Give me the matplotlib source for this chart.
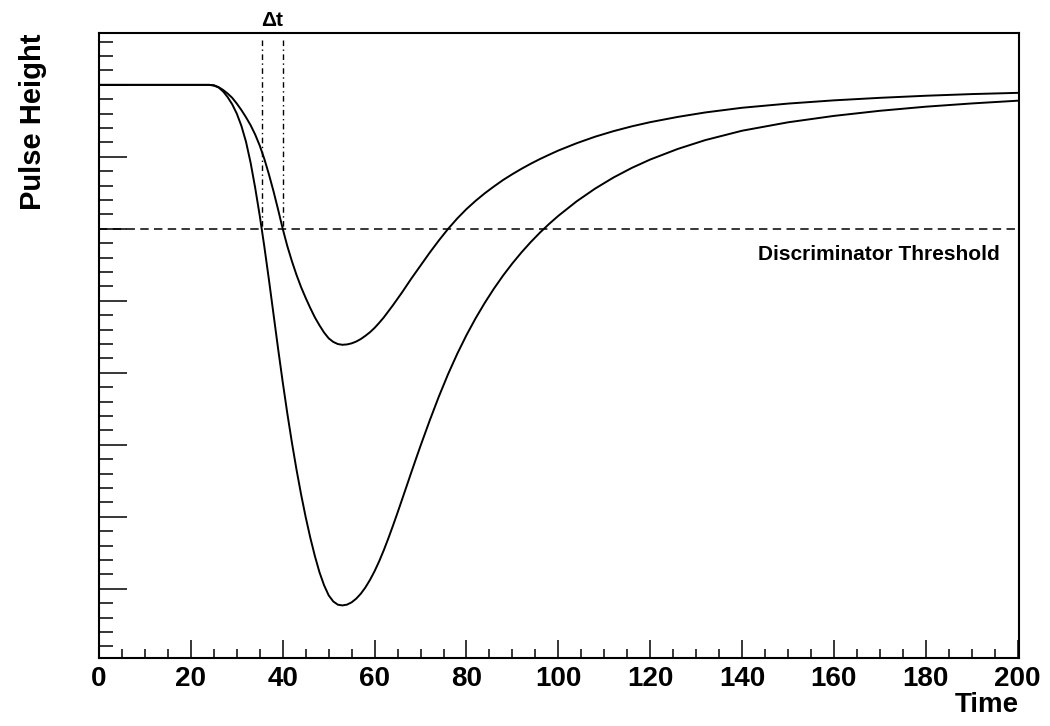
import numpy as np
import matplotlib
matplotlib.use("Agg")
import matplotlib.pyplot as plt
from matplotlib.ticker import MultipleLocator, NullFormatter

plt.rcParams['font.family'] = ['Liberation Sans', 'DejaVu Sans']
plt.rcParams['font.weight'] = 'bold'

# large pulse
big_t = [0, 10, 20, 24, 25, 26, 27, 28, 29, 30, 31, 32, 33, 34, 35, 36, 37, 38, 39,
         40, 41, 42, 43, 44, 45, 46, 47, 48, 49, 50, 51, 52, 53, 54, 55, 56, 57,
         58, 59, 60, 61, 62, 63, 64, 65, 66, 67, 68, 69, 70, 72, 74, 76, 78, 80,
         82, 84, 86, 88, 90, 92, 94, 96, 98, 100, 104, 108, 112, 116, 120, 126,
         132, 140, 150, 160, 170, 180, 190, 200.5]
big_h = [0, 0, 0, 0, -0.01, -0.035, -0.09, -0.17, -0.27, -0.40, -0.57, -0.79, -1.08,
         -1.43, -1.82, -2.25, -2.71, -3.19, -3.67, -4.13, -4.565, -4.97, -5.345, -5.69,
         -6.005, -6.29, -6.545, -6.77, -6.95, -7.09, -7.175, -7.22, -7.23, -7.219,
         -7.187, -7.136, -7.067, -6.98, -6.875, -6.754, -6.616, -6.463, -6.297, -6.122,
         -5.941, -5.755, -5.568, -5.38, -5.195, -5.013, -4.661, -4.327, -4.017, -3.734,
         -3.476, -3.241, -3.026, -2.828, -2.646, -2.479, -2.325, -2.183, -2.052, -1.931,
         -1.819, -1.617, -1.441, -1.287, -1.153, -1.037, -0.89, -0.767, -0.637, -0.52,
         -0.431, -0.36, -0.303, -0.258, -0.218]

# small pulse
small_t = [0, 10, 20, 24, 25, 26, 27, 28, 29, 30, 31, 32, 33, 34, 35, 36, 37, 38, 39,
           40, 41, 42, 43, 44, 45, 46, 47, 48, 49, 50, 51, 52, 53, 54, 55, 56, 57,
           58, 59, 60, 61, 62, 63, 64, 65, 66, 67, 68, 69, 70, 72, 74, 76, 78, 80,
           82, 84, 86, 88, 90, 92, 94, 96, 98, 100, 104, 108, 112, 116, 120, 126,
           132, 140, 150, 160, 170, 180, 190, 200.5]
small_h = [0, 0, 0, 0, -0.005, -0.03, -0.07, -0.12, -0.18, -0.26, -0.35, -0.45, -0.56,
           -0.69, -0.845, -1.03, -1.245, -1.48, -1.735, -2.0, -2.24, -2.45, -2.64, -2.81,
           -2.96, -3.10, -3.23, -3.34, -3.44, -3.52, -3.57, -3.60, -3.61, -3.605, -3.59,
           -3.565, -3.53, -3.485, -3.435, -3.375, -3.305, -3.23, -3.145, -3.06, -2.97,
           -2.88, -2.785, -2.69, -2.6, -2.51, -2.33, -2.16, -2.0, -1.855, -1.725, -1.61,
           -1.505, -1.41, -1.32, -1.24, -1.165, -1.095, -1.03, -0.97, -0.912, -0.81,
           -0.72, -0.643, -0.576, -0.518, -0.445, -0.383, -0.318, -0.26, -0.215, -0.18,
           -0.151, -0.128, -0.11]

threshold = -2.0
dt_lines = [35.4, 40.0]

fig = plt.figure(figsize=(10.5, 7.26), dpi=100)
ax = fig.add_axes([0.0943, 0.0937, 0.8762, 0.8608])

ax.plot(big_t, big_h, color="black", lw=1.4, solid_joinstyle="round")
ax.plot(small_t, small_h, color="black", lw=1.4, solid_joinstyle="round")

ax.axhline(threshold, color="black", lw=1.1, dashes=(5.5, 3.5))
for t in dt_lines:
    ax.plot([t, t], [0.63, threshold], color="black", lw=1.0, dashes=(4, 2.5, 1, 2.5))

ax.text(dt_lines[0] + (dt_lines[1] - dt_lines[0]) / 2, 0.90, "Δt",
        ha="center", va="center", fontsize=15, fontweight="bold")
ax.text(196, -2.36, "Discriminator Threshold", ha="right", va="center",
        fontsize=15, fontweight="bold")

ax.set_xlim(0, 200.3)
ax.set_ylim(-7.96, 0.72)

ax.xaxis.set_major_locator(MultipleLocator(20))
ax.xaxis.set_minor_locator(MultipleLocator(5))
ax.yaxis.set_major_locator(MultipleLocator(1))
ax.yaxis.set_minor_locator(MultipleLocator(0.2))
ax.yaxis.set_major_formatter(NullFormatter())

ax.tick_params(axis="x", which="major", direction="in", length=13, width=1.1,
               labelsize=20, pad=6)
ax.tick_params(axis="x", which="minor", direction="in", length=6.5, width=1.1)
ax.tick_params(axis="y", which="major", direction="in", length=20, width=1.1)
ax.tick_params(axis="y", which="minor", direction="in", length=10, width=1.1)
for lab in ax.get_xticklabels():
    lab.set_fontweight("bold")

for s in ax.spines.values():
    s.set_linewidth(1.5)

ax.set_xlabel("Time", fontsize=20, fontweight="bold", loc="right", labelpad=0)
ax.set_ylabel("Pulse Height", fontsize=21, fontweight="bold", loc="top", labelpad=34)

fig.savefig("out.png", dpi=100)
